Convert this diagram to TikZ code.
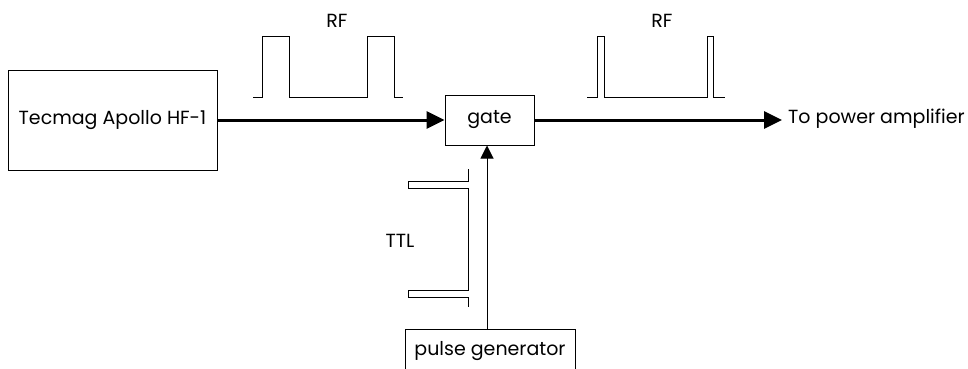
\documentclass[tikz,border=0pt]{standalone}
\usepackage{fontspec}
\setmainfont{Poppins}
\usetikzlibrary{arrows.meta}
\begin{document}
\begin{tikzpicture}[x=1pt,y=-1pt,
  box/.style={draw,line width=1pt,inner sep=0pt,font=\fontsize{19}{22}\selectfont},
  lbl/.style={inner sep=0pt,font=\fontsize{19}{22}\selectfont},
  sig/.style={line width=3pt,-{Triangle[length=18pt,width=17pt]}},
  ctl/.style={line width=1pt,-{Triangle[length=13pt,width=13pt]}},
  wave/.style={line width=1pt,line join=miter}]
\useasboundingbox (0,0) rectangle (968,369);
% boxes
\node[box,minimum width=209pt,minimum height=100pt] (tec) at (112.5,120) {Tecmag Apollo HF-1};
\node[box,minimum width=89pt,minimum height=50pt] (gate) at (489.5,120) {gate};
\node[lbl] (pg) at (490,351) {pulse generator};
\draw[line width=1pt] (405,372) -- (405,329.5) -- (575,329.5) -- (575,372);
\coordinate (pgtop) at (487,329.5);
\coordinate (out) at (782,120);
\node[lbl,anchor=west] (amp) at (788,119) {To power amplifier};
% connectors
\draw[sig] (tec.east) -- (gate.west);
\draw[sig] (gate.east) -- (out);
\draw[ctl] (pgtop) -- (pgtop |- gate.south);
% labels
\node[lbl] (rf1) at (337,21) {RF};
\node[lbl] (rf2) at (662,21) {RF};
\node[lbl] (ttl) at (400,241) {TTL};
% RF waveforms
\draw[wave] (253,97) -- (262,97) -- (262,37) -- (289,37) -- (289,97) -- (367,97) -- (367,37) -- (394,37) -- (394,97) -- (403,97);
\draw[wave] (587,97) -- (597,97) -- (597,37) -- (604,37) -- (604,97) -- (707,97) -- (707,37) -- (713,37) -- (713,97) -- (725,97);
% TTL waveform
\draw[wave] (468,169) -- (468,181) -- (408,181) -- (408,188) -- (468,188) -- (468,290) -- (408,290) -- (408,297) -- (468,297) -- (468,307);
\end{tikzpicture}
\end{document}
